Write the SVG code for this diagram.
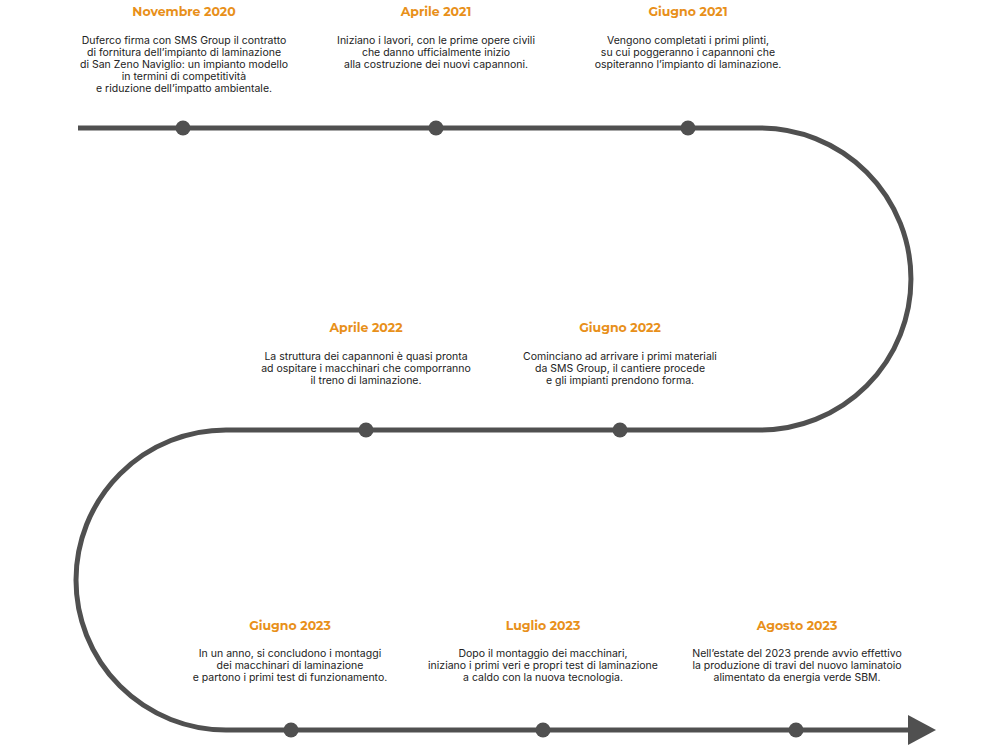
<svg xmlns="http://www.w3.org/2000/svg" width="1000" height="751" viewBox="0 0 1000 751">
<style>
.t{font-family:"Montserrat","Inter","Liberation Sans",sans-serif;font-weight:700;font-size:12.5px;fill:#E8901A;text-anchor:middle}
.b{font-family:"Inter","Liberation Sans",sans-serif;font-size:10.5px;fill:#222;text-anchor:middle}
.d{fill:#505050}
</style>
<rect width="1000" height="751" fill="#fff"/>
<g id="connectors">
<path d="M78,128 H760 A151,151 0 0 1 760,430 H226 A150,150 0 0 0 226,730 H910" fill="none" stroke="#505050" stroke-width="5"/>
<polygon points="908,715 936,730 908,745" fill="#505050"/>
</g>
<g id="n1"><circle class="d" cx="183" cy="128" r="7.5"/><text class="t" x="184" y="16">Novembre 2020</text>
<text class="b" x="184" y="44">Duferco firma con SMS Group il contratto</text><text class="b" x="184" y="56">di fornitura dell’impianto di laminazione</text><text class="b" x="184" y="68">di San Zeno Naviglio: un impianto modello</text><text class="b" x="184" y="80">in termini di competitività</text><text class="b" x="184" y="92">e riduzione dell’impatto ambientale.</text></g>
<g id="n2"><circle class="d" cx="436" cy="128" r="7.5"/><text class="t" x="436" y="16">Aprile 2021</text>
<text class="b" x="436" y="44">Iniziano i lavori, con le prime opere civili</text><text class="b" x="436" y="56">che danno ufficialmente inizio</text><text class="b" x="436" y="68">alla costruzione dei nuovi capannoni.</text></g>
<g id="n3"><circle class="d" cx="688" cy="128" r="7.5"/><text class="t" x="688" y="16">Giugno 2021</text>
<text class="b" x="688" y="44">Vengono completati i primi plinti,</text><text class="b" x="688" y="56">su cui poggeranno i capannoni che</text><text class="b" x="688" y="68">ospiteranno l’impianto di laminazione.</text></g>
<g id="n4"><circle class="d" cx="366" cy="430" r="7.5"/><text class="t" x="366" y="332">Aprile 2022</text>
<text class="b" x="366" y="360">La struttura dei capannoni è quasi pronta</text><text class="b" x="366" y="372">ad ospitare i macchinari che comporranno</text><text class="b" x="366" y="384">il treno di laminazione.</text></g>
<g id="n5"><circle class="d" cx="620" cy="430" r="7.5"/><text class="t" x="620" y="332">Giugno 2022</text>
<text class="b" x="620" y="360">Cominciano ad arrivare i primi materiali</text><text class="b" x="620" y="372">da SMS Group, il cantiere procede</text><text class="b" x="620" y="384">e gli impianti prendono forma.</text></g>
<g id="n6"><circle class="d" cx="291" cy="730" r="7.5"/><text class="t" x="290" y="630">Giugno 2023</text>
<text class="b" x="290" y="657">In un anno, si concludono i montaggi</text><text class="b" x="290" y="669">dei macchinari di laminazione</text><text class="b" x="290" y="681">e partono i primi test di funzionamento.</text></g>
<g id="n7"><circle class="d" cx="543" cy="730" r="7.5"/><text class="t" x="543" y="630">Luglio 2023</text>
<text class="b" x="543" y="657">Dopo il montaggio dei macchinari,</text><text class="b" x="543" y="669">iniziano i primi veri e propri test di laminazione</text><text class="b" x="543" y="681">a caldo con la nuova tecnologia.</text></g>
<g id="n8"><circle class="d" cx="796" cy="730" r="7.5"/><text class="t" x="797" y="630">Agosto 2023</text>
<text class="b" x="797" y="657">Nell’estate del 2023 prende avvio effettivo</text><text class="b" x="797" y="669">la produzione di travi del nuovo laminatoio</text><text class="b" x="797" y="681">alimentato da energia verde SBM.</text></g>
</svg>
